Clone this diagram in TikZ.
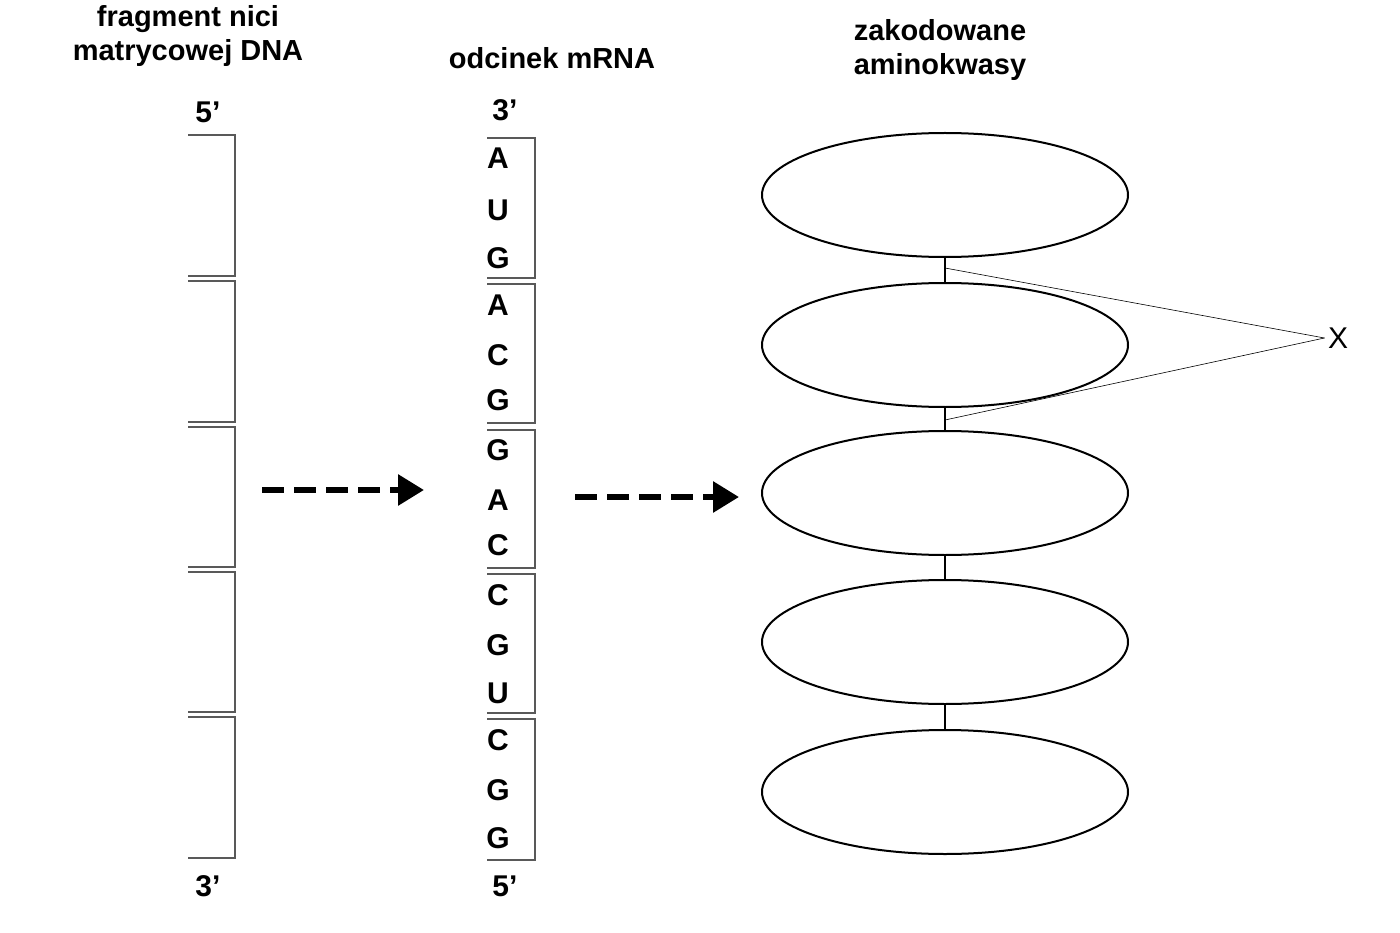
\documentclass[tikz,border=0pt]{standalone}
\usepackage{fontspec}
\setmainfont{Liberation Sans}
\usetikzlibrary{positioning, arrows.meta, calc, shapes.geometric}

\begin{document}
\begin{tikzpicture}[
    x=1pt, y=-1pt,
    bracket/.style={gray!70!black, line width=2pt},
    base/.style={font=\fontsize{30}{34}\selectfont\bfseries, inner sep=0pt},
    label/.style={font=\fontsize{29}{34}\selectfont\bfseries, align=center, inner sep=0pt},
    amino/.style={draw, line width=2pt, ellipse, minimum width=366pt, minimum height=124pt, inner sep=0pt},
    bond/.style={line width=2.5pt},
    pointer/.style={line width=0.6pt},
    flow/.style={line width=6pt, dash pattern=on 22pt off 10pt, -{Triangle[length=26pt, width=30pt]}}
]
\useasboundingbox (0,0) rectangle (1400,933);

% naglowki
\node[label] (hdna) at (188,36) {fragment nici\\matrycowej DNA};
\node[label] (hmrna) at (552,58) {odcinek mRNA};
\node[label, align=left] (haa) at (940,50) {zakodowane\\aminokwasy};

% koncowki
\node[base] at (208,112) {5'};
\node[base] at (208,886) {3'};
\node[base] at (505,110) {3'};
\node[base] at (505,886) {5'};

% nic DNA
\foreach \t/\b in {135/276,281/422,427/567,572/712,717/858}
    \draw[bracket] (188,\t) -- (235,\t) -- (235,\b) -- (188,\b);

% mRNA
\foreach \t/\b in {138/278,284/423,430/568,574/713,719/860}
    \draw[bracket] (487,\t) -- (535,\t) -- (535,\b) -- (487,\b);
\foreach \l/\y [count=\i] in {A/158,U/210,G/258,A/305,C/355,G/400,G/450,A/500,C/545,
                             C/595,G/645,U/693,C/740,G/790,G/838}
    \node[base] (n\i) at (498,\y) {\l};

% strzalki
\coordinate (a1s) at (262,490);
\coordinate (a1e) at (424,490);
\coordinate (a2s) at (575,497);
\coordinate (a2e) at (739,497);
\draw[flow] (a1s) -- (a1e);
\draw[flow] (a2s) -- (a2e);

% aminokwasy
\foreach \y [count=\i] in {195,345,493,642,792}
    \node[amino] (aa\i) at (945,\y) {};
\foreach \i [evaluate=\i as \j using int(\i+1)] in {1,...,4}
    \draw[bond] (aa\i.south) -- (aa\j.north);

% wiazanie X
\node[font=\fontsize{30}{34}\selectfont] (x) at (1338,338) {X};
\coordinate (b1) at (945,268);
\coordinate (b2) at (945,420);
\draw[pointer] (b1) -- (x.west);
\draw[pointer] (b2) -- (x.west);

\end{tikzpicture}
\end{document}
